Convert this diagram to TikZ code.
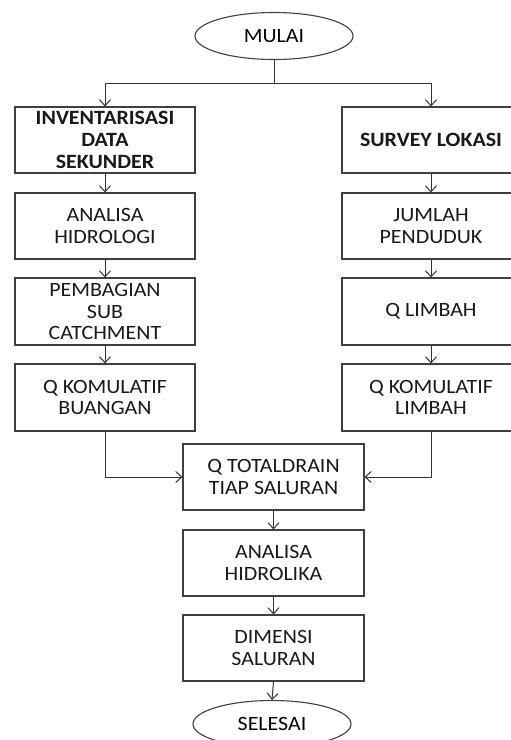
\documentclass[tikz,border=0pt]{standalone}
\usepackage{fontspec}
\setmainfont{Carlito}[FakeStretch=1.08]
\usetikzlibrary{shapes.geometric,arrows.meta}
\begin{document}
\begin{tikzpicture}[x=1pt,y=-1pt,
  box/.style={draw=black!75,line width=1.1pt,rectangle,align=center,inner sep=0pt,
    minimum height=66pt,font=\fontsize{20.3}{21.7}\selectfont,text=black!90},
  lbox/.style={box,minimum width=180pt},
  rbox/.style={box,minimum width=178pt},
  cbox/.style={box,minimum width=181pt},
  term/.style={draw=black!75,line width=1.1pt,ellipse,minimum width=158pt,minimum height=47pt,
    inner sep=0pt,font=\fontsize{20.3}{21.7}\selectfont},
  arr/.style={draw=black!80,line width=1pt,-{Straight Barb[length=6pt,width=11pt]}},
  ln/.style={draw=black!80,line width=1pt}]
\useasboundingbox[fill=white] (0,0) rectangle (511,740);
\node[term] (mulai) at (274,36) {MULAI};
\node[lbox] (L1) at (105,140) {\bfseries INVENTARISASI\\\bfseries DATA\\\bfseries SEKUNDER};
\node[lbox] (L2) at (105,226) {ANALISA\\HIDROLOGI};
\node[lbox,minimum height=67pt] (L3) at (105,311.5) {PEMBAGIAN\\SUB\\CATCHMENT};
\node[lbox,minimum height=67pt] (L4) at (105,397.5) {Q KOMULATIF\\BUANGAN};
\node[rbox] (R1) at (431,140) {\bfseries SURVEY LOKASI};
\node[rbox] (R2) at (431,226) {JUMLAH\\PENDUDUK};
\node[rbox,minimum height=67pt] (R3) at (431,311.5) {Q LIMBAH};
\node[rbox,minimum height=67pt] (R4) at (431,397.5) {Q KOMULATIF\\LIMBAH};
\node[cbox] (C1) at (273.5,477) {Q TOTALDRAIN\\TIAP SALURAN};
\node[cbox] (C2) at (273.5,563) {ANALISA\\HIDROLIKA};
\node[cbox] (C3) at (273.5,648) {DIMENSI\\SALURAN};
\node[term] (selesai) at (272,724) {SELESAI};
\coordinate (split) at (274,83);
\draw[ln] (mulai.south) -- (split);
\draw[arr] (split) -| (L1.north);
\draw[arr] (split) -| (R1.north);
\draw[arr] (L1) -- (L2);
\draw[arr] (L2) -- (L3);
\draw[arr] (L3) -- (L4);
\draw[arr] (R1) -- (R2);
\draw[arr] (R2) -- (R3);
\draw[arr] (R3) -- (R4);
\draw[arr] (L4.south) |- (C1.west);
\draw[arr] (R4.south) |- (C1.east);
\draw[arr] (C1) -- (C2);
\draw[arr] (C2) -- (C3);
\draw[arr] (C3.south) -- (selesai.north);
\end{tikzpicture}
\end{document}
